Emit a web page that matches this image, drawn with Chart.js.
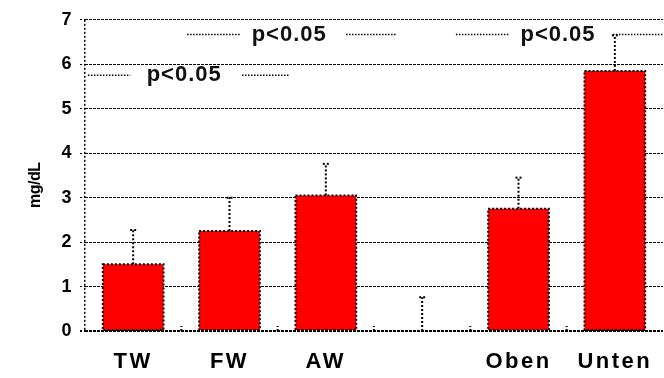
<!DOCTYPE html>
<html>
<head>
<meta charset="utf-8">
<script src="https://cdn.jsdelivr.net/npm/chart.js@4.4.0/dist/chart.umd.min.js"></script>
<style>
    html, body { margin: 0; padding: 0; background: #fff; }
    canvas { display: block; }
</style>
</head>
<body>
<canvas id="barChart" width="664" height="378"></canvas>
<script>
// values
const categories = ["TW", "FW", "AW", "", "Oben", "Unten"];
const means = [1.5, 2.25, 3.05, 0, 2.75, 5.85];
const errors = [0.77, 0.75, 0.71, 0.76, 0.7, 0.8];
const yTicks = [0, 1, 2, 3, 4, 5, 6, 7];

// significance brackets: level, line start, gap start, gap end, line end, text centre (category units)
const bracketLevels = [5.75, 6.67, 6.67];
const bracketStarts = [-0.47, 0.56, 3.35];
const bracketGapStarts = [-0.03, 1.12, 3.9];
const bracketGapEnds = [1.13, 2.21, 4.98];
const bracketEnds = [1.62, 2.73, 5.5];
const bracketTextAt = [0.53, 1.62, 4.41];
const bracketLabel = "p<0.05";

const FONT = "'Liberation Sans', Arial, sans-serif";

// the original lettering is stretched wide, the axis title squeezed
const letterSpacing = {
    id: "letterSpacing",
    beforeDraw(chart) {
        chart.ctx.letterSpacing = "-0.5px";
    },
    beforeDatasetsDraw(chart) {
        chart.ctx.letterSpacing = "2.5px";
    },
};

const dottedBars = {
    id: "dottedBars",
    afterDatasetsDraw(chart) {
        const ctx = chart.ctx;
        const yScale = chart.scales.y;
        const xScale = chart.scales.x;
        const meta = chart.getDatasetMeta(0);
        ctx.save();
        ctx.strokeStyle = "#000";

        // bar outlines
        ctx.lineWidth = 2;
        ctx.setLineDash([2, 2]);
        meta.data.forEach((bar, i) => {
            if (!means[i]) return;
            const left = bar.x - bar.width / 2;
            ctx.strokeRect(left, bar.y, bar.width, bar.base - bar.y);
        });

        // error bars
        meta.data.forEach((bar, i) => {
            const top = yScale.getPixelForValue(means[i] + errors[i]);
            const from = yScale.getPixelForValue(means[i]);
            ctx.beginPath();
            ctx.moveTo(bar.x, from);
            ctx.lineTo(bar.x, top);
            ctx.stroke();
            ctx.beginPath();
            ctx.moveTo(bar.x - 3, top);
            ctx.lineTo(bar.x + 3, top);
            ctx.stroke();
        });

        // little tick marks on category boundaries
        for (let i = 1; i < categories.length; i++) {
            const x = (xScale.getPixelForValue(i - 1) + xScale.getPixelForValue(i)) / 2;
            ctx.beginPath();
            ctx.moveTo(x, yScale.bottom);
            ctx.lineTo(x, yScale.bottom - 5);
            ctx.stroke();
        }

        // brackets
        ctx.letterSpacing = "1px";
        ctx.font = "bold 22px " + FONT;
        ctx.fillStyle = "#111";
        ctx.textAlign = "center";
        ctx.textBaseline = "middle";
        ctx.lineWidth = 1.5;
        bracketLevels.forEach((level, i) => {
            const y = yScale.getPixelForValue(level);
            ctx.setLineDash([1.5, 1.5]);
            ctx.beginPath();
            ctx.moveTo(xScale.getPixelForValue(bracketStarts[i]), y);
            ctx.lineTo(xScale.getPixelForValue(bracketGapStarts[i]), y);
            ctx.moveTo(xScale.getPixelForValue(bracketGapEnds[i]), y);
            ctx.lineTo(Math.min(xScale.getPixelForValue(bracketEnds[i]), chart.width), y);
            ctx.stroke();
            ctx.fillText(bracketLabel, xScale.getPixelForValue(bracketTextAt[i]), y);
        });
        ctx.restore();
    },
};

new Chart(document.getElementById("barChart"), {
    type: "bar",
    data: {
        labels: categories,
        datasets: [
            {
                data: means,
                backgroundColor: "#ff0000",
                borderWidth: 0,
                categoryPercentage: 1,
                barPercentage: 0.63,
            },
        ],
    },
    options: {
        responsive: false,
        animation: false,
        layout: { padding: { top: 15, right: 0, left: 0, bottom: 0 } },
        plugins: {
            legend: { display: false },
            tooltip: { enabled: false },
        },
        scales: {
            x: {
                afterFit: (scale) => { scale.height = 47; },
                border: { display: false, dash: [2, 2] },
                grid: {
                    color: (c) => (c.index === 0 ? "#000" : "rgba(0,0,0,0)"),
                    lineWidth: 1.5,
                    drawTicks: false,
                },
                ticks: {
                    z: 1,
                    color: "#000",
                    padding: 18,
                    font: { family: FONT, size: 22, weight: "bold" },
                },
            },
            y: {
                min: 0,
                max: 7,
                afterFit: (scale) => { scale.width = 85; },
                afterBuildTicks: (scale) => { scale.ticks = yTicks.map((v) => ({ value: v })); },
                border: { display: false, dash: [3, 1] },
                grid: {
                    color: "#000",
                    lineWidth: (c) => (c.tick && c.tick.value === 0 ? 2 : 1),
                    tickLength: 5,
                    tickBorderDash: [2, 2],
                },
                ticks: {
                    color: "#000",
                    padding: 9,
                    font: { family: FONT, size: 18, weight: "bold" },
                },
                title: {
                    display: true,
                    text: "mg/dL     ",
                    color: "#000",
                    padding: { top: 26, bottom: 0 },
                    font: { family: FONT, size: 16, weight: "bold" },
                },
            },
        },
    },
    plugins: [letterSpacing, dottedBars],
});
</script>
</body>
</html>
